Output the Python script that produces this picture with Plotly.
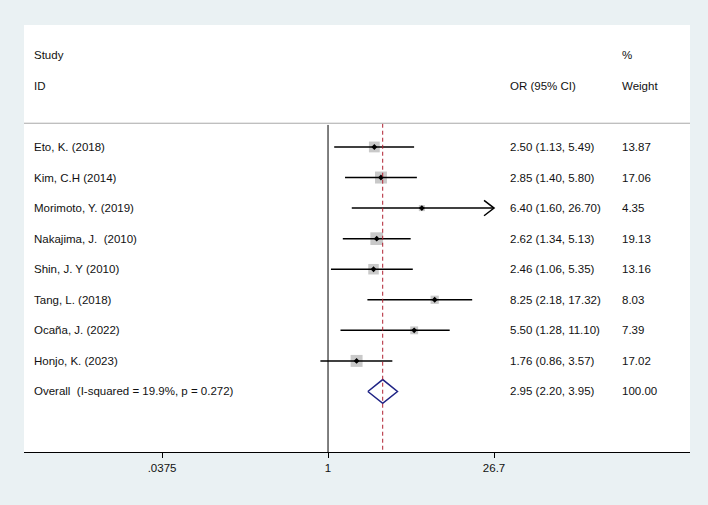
import math
import plotly.graph_objects as go

studies = ["Eto, K. (2018)", "Kim, C.H (2014)", "Morimoto, Y. (2019)", "Nakajima, J.\u00a0 (2010)",
           "Shin, J. Y (2010)", "Tang, L. (2018)", "Oca\u00f1a, J. (2022)", "Honjo, K. (2023)"]
or_vals = [2.50, 2.85, 6.40, 2.62, 2.46, 8.25, 5.50, 1.76]
ci_low = [1.13, 1.40, 1.60, 1.34, 1.06, 2.18, 1.28, 0.86]
ci_high = [5.49, 5.80, 26.70, 5.13, 5.35, 17.32, 11.10, 3.57]
weights = [13.87, 17.06, 4.35, 19.13, 13.16, 8.03, 7.39, 17.02]
or_text = ["2.50 (1.13, 5.49)", "2.85 (1.40, 5.80)", "6.40 (1.60, 26.70)", "2.62 (1.34, 5.13)",
           "2.46 (1.06, 5.35)", "8.25 (2.18, 17.32)", "5.50 (1.28, 11.10)", "1.76 (0.86, 3.57)"]
weight_text = ["13.87", "17.06", "4.35", "19.13", "13.16", "8.03", "7.39", "17.02"]

overall_label = "Overall\u00a0 (I-squared = 19.9%, p = 0.272)"
overall_or = 2.95
overall_low = 2.20
overall_high = 3.95
overall_text = "2.95 (2.20, 3.95)"
overall_weight = "100.00"

tick_vals = [0.0375, 1, 26.7]
tick_text = [".0375", "1", "26.7"]
clip_max = 26.7

FONT = "Liberation Sans, Arial, sans-serif"
FS = 11.5
Y_TOP = -3.99
Y_BOT = 9.98
X_LO = -2.612
X_HI = 3.110

rows = list(range(len(studies)))
overall_row = len(studies)

fig = go.Figure()

# weight boxes (drawn under the CI lines)
fig.add_trace(go.Scatter(x=or_vals, y=rows, mode="markers",
                         marker=dict(symbol="square", color="#b2b2b2",
                                     size=[2.9 * math.sqrt(w) for w in weights], line=dict(width=0)),
                         hoverinfo="skip", showlegend=False))

# CI lines
xs, ys = [], []
for i in rows:
    xs += [ci_low[i], min(ci_high[i], clip_max), None]
    ys += [i, i, None]
fig.add_trace(go.Scatter(x=xs, y=ys, mode="lines", line=dict(color="black", width=1.5),
                         hoverinfo="skip", showlegend=False))

# arrowheads for clipped CIs
ax, ay = [], []
for i in rows:
    if ci_high[i] >= clip_max:
        tip = clip_max
        back = tip / 10 ** 0.086
        ax += [back, tip, back, None]
        ay += [i - 0.25, i, i + 0.25, None]
if ax:
    fig.add_trace(go.Scatter(x=ax, y=ay, mode="lines", line=dict(color="black", width=1.5),
                             hoverinfo="skip", showlegend=False))

# point estimates
fig.add_trace(go.Scatter(x=or_vals, y=rows, mode="markers",
                         marker=dict(symbol="diamond", color="black", size=4.5),
                         hoverinfo="skip", showlegend=False))

# overall diamond
h = 0.39
fig.add_trace(go.Scatter(x=[overall_low, overall_or, overall_high, overall_or, overall_low],
                         y=[overall_row, overall_row - h, overall_row, overall_row + h, overall_row],
                         mode="lines", line=dict(color="#1f2385", width=1.5),
                         hoverinfo="skip", showlegend=False))

# reference lines
fig.add_shape(type="line", xref="x", yref="y", x0=1, x1=1, y0=-0.72, y1=Y_BOT,
              line=dict(color="black", width=1))
fig.add_shape(type="line", xref="x", yref="y", x0=overall_or, x1=overall_or, y0=-0.76, y1=Y_BOT,
              line=dict(color="#b02030", width=1, dash="4px,3px"))
fig.add_shape(type="line", xref="paper", yref="y", x0=0, x1=1, y0=-0.776, y1=-0.776,
              line=dict(color="#a8a8a8", width=1))

# text columns
def txt(x_px, y, s):
    fig.add_annotation(x=(x_px - 24) / 666, xref="paper", y=y, yref="y", text=s,
                       showarrow=False, xanchor="left", yanchor="middle",
                       font=dict(family=FONT, size=FS, color="#111111"))

X_STUDY, X_OR, X_W = 32, 508, 620
txt(X_STUDY, -3, "Study")
txt(X_STUDY, -2, "ID")
txt(X_OR, -2, "OR (95% CI)")
txt(X_W, -3, "%")
txt(X_W, -2, "Weight")
for i in rows:
    txt(X_STUDY, i, studies[i])
    txt(X_OR, i, or_text[i])
    txt(X_W, i, weight_text[i])
txt(X_STUDY, overall_row, overall_label)
txt(X_OR, overall_row, overall_text)
txt(X_W, overall_row, overall_weight)

fig.update_layout(
    width=708, height=505,
    margin=dict(l=24, r=18, t=25, b=53),
    paper_bgcolor="#eaf1f3", plot_bgcolor="white",
    font=dict(family=FONT, size=FS, color="#111111"),
    xaxis=dict(type="log", range=[X_LO, X_HI], tickvals=tick_vals, ticktext=tick_text,
               showgrid=False, zeroline=False, showline=True, linecolor="black", linewidth=1,
               ticks="outside", ticklen=5, tickcolor="black", tickwidth=1,
               tickfont=dict(family=FONT, size=FS, color="#111111")),
    yaxis=dict(range=[Y_BOT, Y_TOP], showgrid=False, zeroline=False, showline=False,
               showticklabels=False, ticks=""),
)

fig.write_html("out.html", config={"displayModeBar": False})
